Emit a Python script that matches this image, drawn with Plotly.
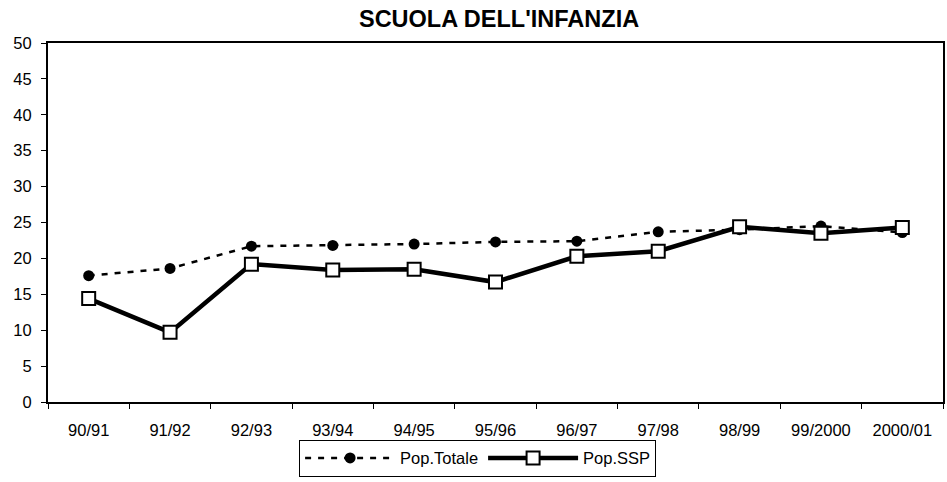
import plotly.graph_objects as go

# School years on the category axis
years = ["90/91", "91/92", "92/93", "93/94", "94/95", "95/96",
         "96/97", "97/98", "98/99", "99/2000", "2000/01"]

# Total population series
pop_totale = [17.6, 18.6, 21.7, 21.8, 22.0, 22.3, 22.4, 23.7, 24.0, 24.5, 23.6]

# SSP population series
pop_ssp = [14.4, 9.7, 19.2, 18.4, 18.5, 16.7, 20.3, 21.0, 24.4, 23.5, 24.3]

y_ticks = list(range(0, 51, 5))

FONT = "Liberation Sans, Arial, sans-serif"

fig = go.Figure()

fig.add_trace(go.Scatter(
    x=years, y=pop_totale, name="Pop.Totale", mode="lines+markers",
    line=dict(color="black", width=2.5, dash="6px,7px"),
    marker=dict(symbol="circle", size=11, color="black"),
))

fig.add_trace(go.Scatter(
    x=years, y=pop_ssp, name="Pop.SSP", mode="lines+markers",
    line=dict(color="black", width=4.5),
    marker=dict(symbol="square", size=13, color="white",
                line=dict(color="black", width=2)),
))

fig.update_layout(
    width=947, height=482,
    margin=dict(l=48, r=2, t=43, b=80),
    paper_bgcolor="white", plot_bgcolor="white",
    font=dict(family=FONT, size=16.5, color="black"),
    title=dict(text="<b>SCUOLA DELL'INFANZIA</b>", x=0.527, xanchor="center",
               y=0.962, yanchor="middle", font=dict(family=FONT, size=23.5)),
    showlegend=True,
    legend=dict(orientation="h", x=0.48, xanchor="center", y=-0.105, yanchor="top",
                bordercolor="black", borderwidth=1, bgcolor="white",
                itemwidth=90, font=dict(family=FONT, size=16.5),
                traceorder="normal", tracegroupgap=0),
)

fig.update_xaxes(
    type="category", range=[-0.5, 10.5], tickson="boundaries",
    ticks="outside", ticklen=5, tickcolor="black", tickwidth=1,
    ticklabelstandoff=12,
    showline=True, linecolor="black", linewidth=2, mirror=True,
    showgrid=False, zeroline=False,
    tickfont=dict(family=FONT, size=16.5),
)

fig.update_yaxes(
    range=[0, 50], tickvals=y_ticks, ticks="outside", ticklen=5,
    tickcolor="black", tickwidth=1, ticklabelstandoff=6,
    showline=True, linecolor="black", linewidth=2, mirror=True,
    showgrid=False, zeroline=False,
    tickfont=dict(family=FONT, size=16.5),
)

fig.write_html("out.html")
